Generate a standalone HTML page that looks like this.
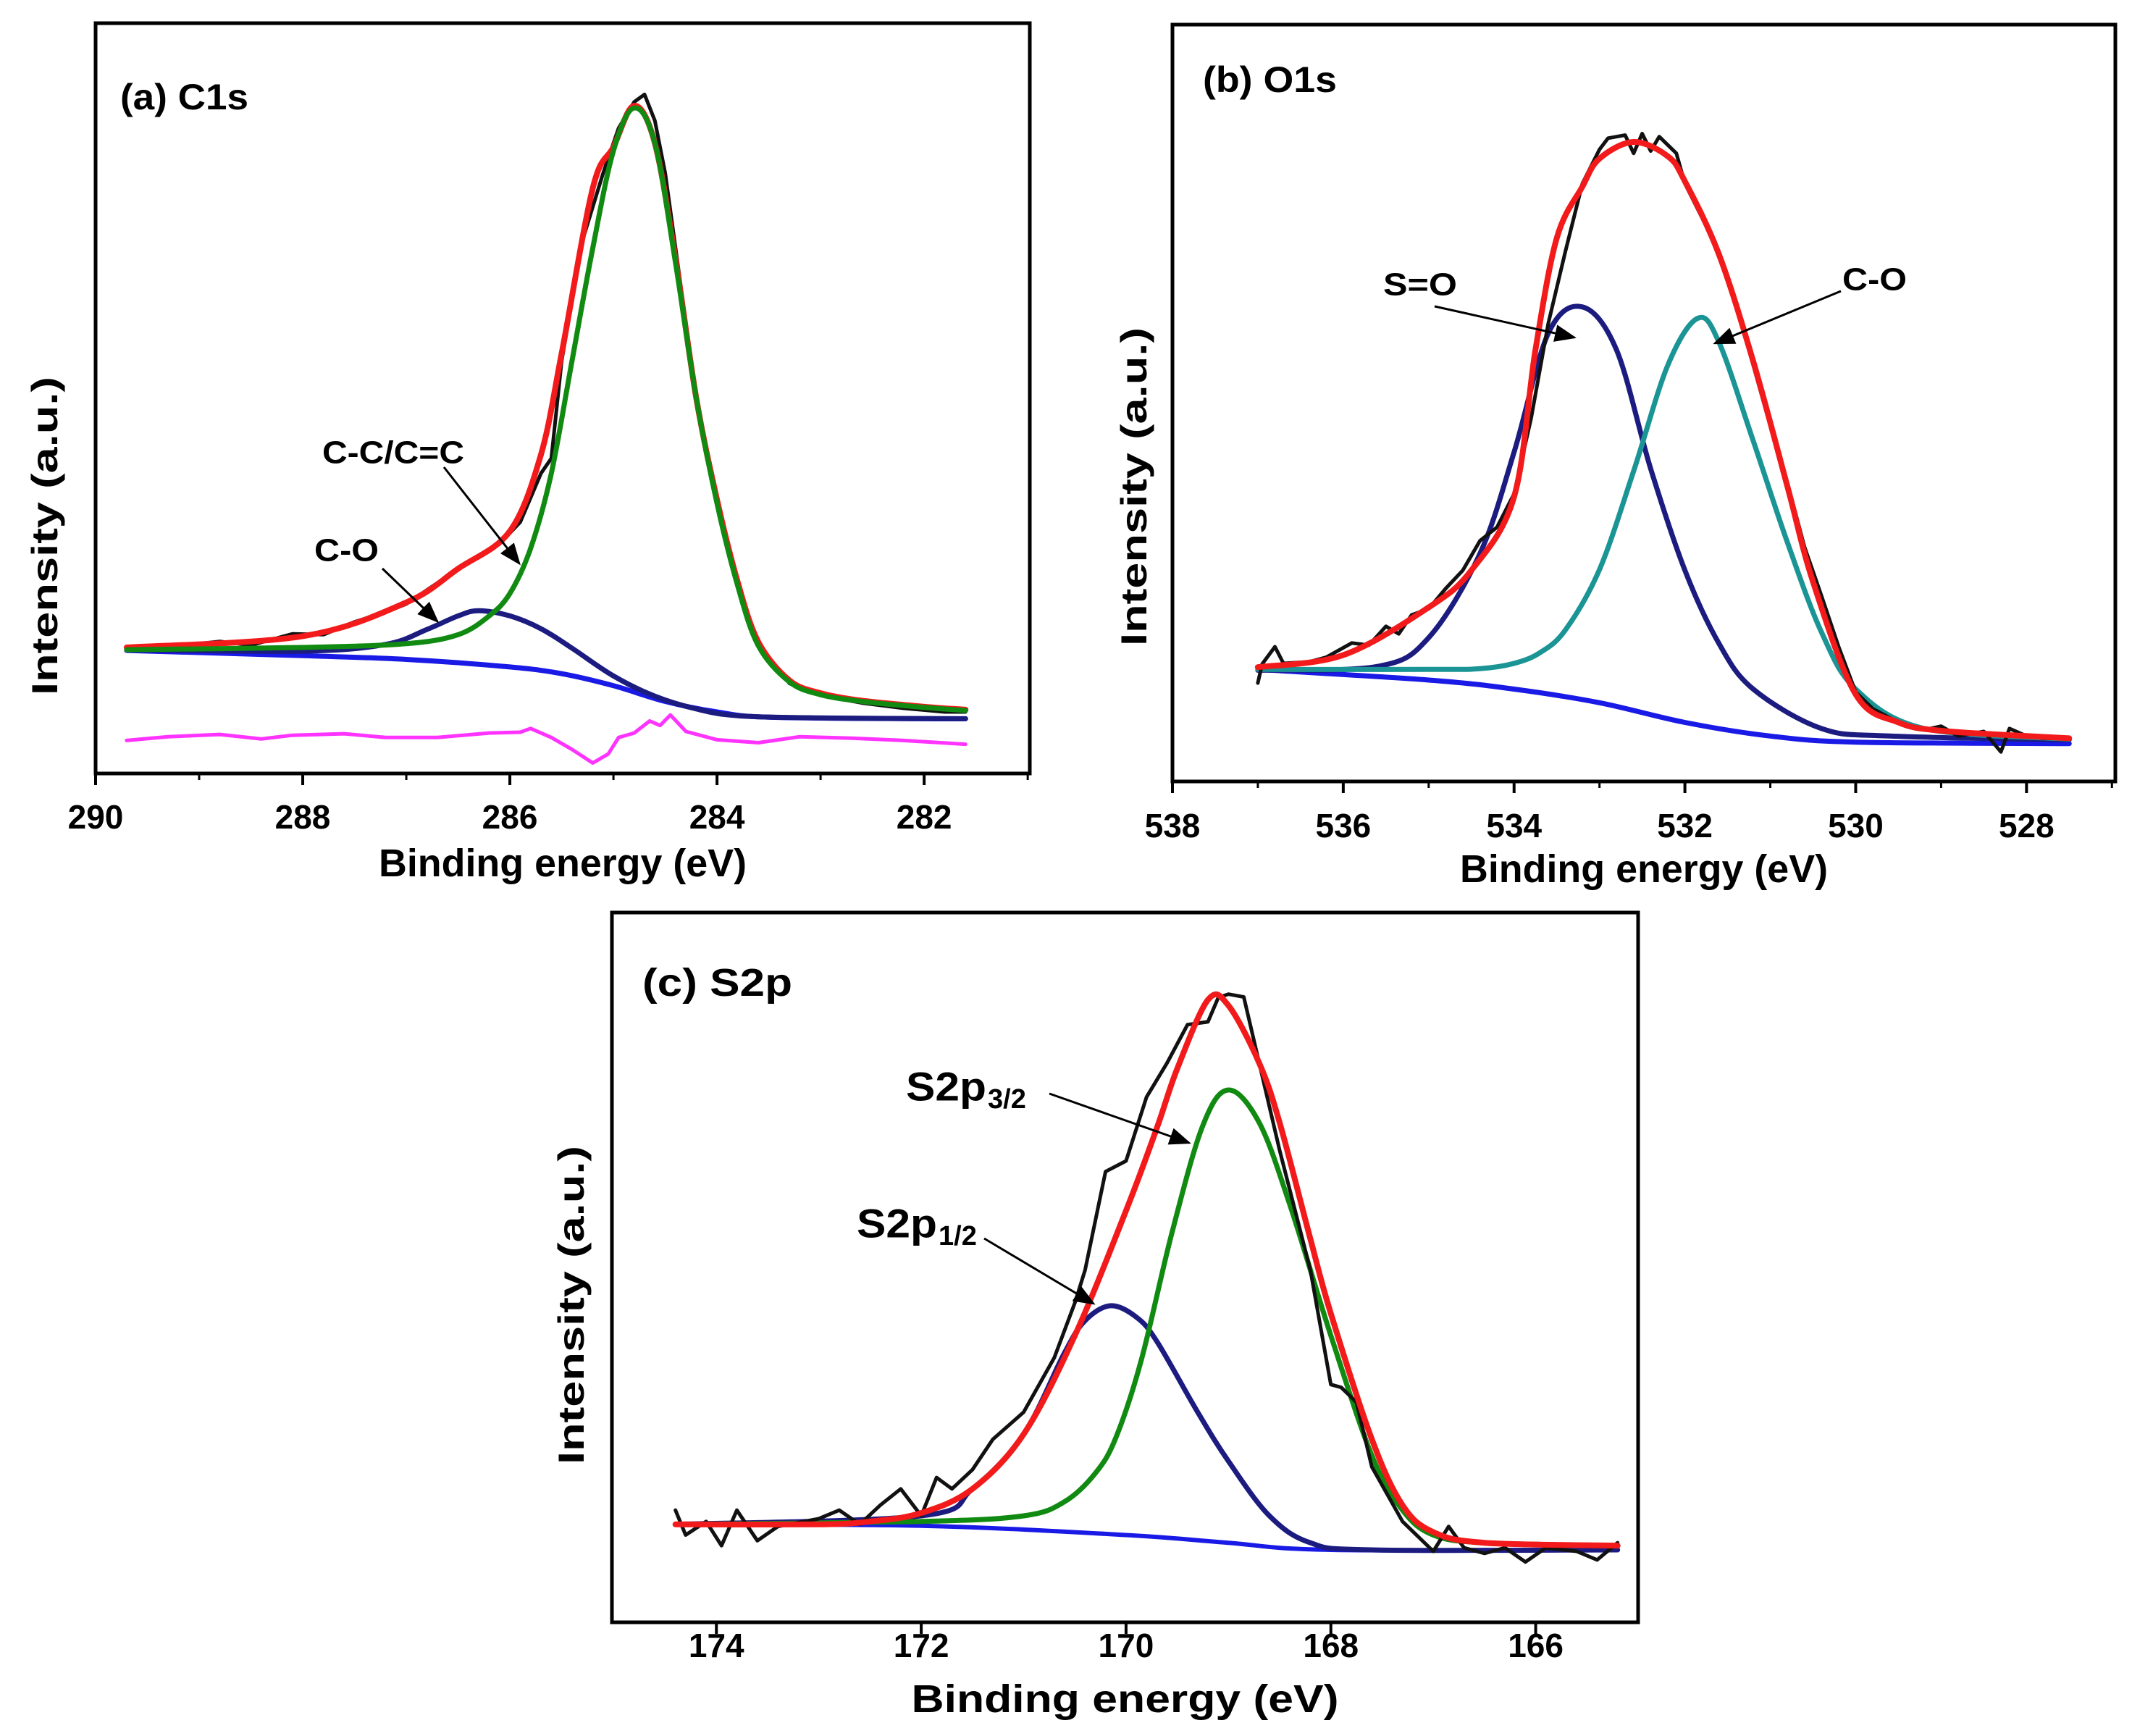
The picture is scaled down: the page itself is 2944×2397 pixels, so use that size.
<!DOCTYPE html>
<html><head><meta charset="utf-8">
<style>
html,body{margin:0;padding:0;background:#fff;}
svg{display:block;}
text{font-family:"Liberation Sans",Arial,sans-serif;font-weight:bold;fill:#000;}
</style></head>
<body>
<svg id="fig" width="2944" height="2397" viewBox="0 0 2944 2397" xmlns="http://www.w3.org/2000/svg">
<defs>
<marker id="ah" markerWidth="10" markerHeight="8" refX="9" refY="4" orient="auto" markerUnits="strokeWidth">
<path d="M0,0 L10,4 L0,8 z" fill="#000"/></marker>
</defs>
</svg>
<script>
// ---------- Panel (a) C1s data ----------
const aXTicks = [290, 288, 286, 284, 282];
const aRawE = [289.7,289.2,288.8,288.5,288.1,287.8,287.5,287.2,287.0,286.7,286.4,286.1,285.9,285.7,285.6,285.5,285.3,285.1,284.95,284.8,284.7,284.6,284.5,284.4,284.2,284.0,283.8,283.6,283.3,283.0,282.6,282.2,281.8,281.6];
const aRawI = [16.8,17,17.6,17.1,18.6,18.5,20.2,21.5,22.6,25.4,28.1,30.6,33.5,40,42,55,71,80,86,89.5,90.5,87,80,70,50,36,25,17.3,12,10.4,9.4,8.7,8.2,8.2];
const aFitE = [289.7,288,287,286.5,286,285.7,285.5,285.2,285,284.8,284.6,284.4,284.2,284,283.8,283.6,283.3,283,282.6,282,281.6];
const aFitI = [16.8,18.3,22.8,27.3,32.3,42.5,56,78,83.5,89,84,68.5,50,36.5,25.5,17.5,12.4,10.7,9.7,8.9,8.5];
const aCCE = [289.7,288,287,286.5,286.2,286,285.8,285.6,285.4,285.2,285,284.8,284.6,284.4,284.2,284,283.8,283.6,283.3,283,282.6,282,281.6];
const aCCI = [16.5,16.8,17.3,18.5,21,24,30,40,55,70,83,88.7,84,68,50,36,25,17,12.2,10.5,9.6,8.8,8.4];
const aCOE = [289.7,288,287.2,286.8,286.5,286.3,286,285.7,285.4,285,284.6,284.2,283.8,283,281.6];
const aCOI = [16.5,16.3,17.2,19.2,21,21.7,21,19.3,16.7,13,10.3,8.6,7.7,7.4,7.3];
const aBgE = [289.7,288,287,286,285.5,285,284.5,284,283.5,282,281.6];
const aBgI = [16.4,15.7,15.2,14.2,13.3,11.7,9.6,8.2,7.5,7.3,7.3];
const aResE = [289.7,289.3,288.8,288.4,288.1,287.6,287.2,286.7,286.2,285.9,285.8,285.6,285.4,285.2,285.05,284.95,284.8,284.65,284.55,284.45,284.3,284.0,283.6,283.2,282.7,282.2,281.6];
const aResI = [4.4,4.9,5.2,4.6,5.1,5.3,4.8,4.8,5.4,5.5,6.0,4.8,3.2,1.4,2.6,4.8,5.4,7.0,6.4,7.8,5.6,4.5,4.1,4.9,4.7,4.4,3.9];

// ---------- Panel (b) O1s data ----------
const bXTicks = [538, 536, 534, 532, 530, 528];
const bRawE = [537,536.95,536.8,536.7,536.4,536.2,535.9,535.7,535.5,535.35,535.2,535,534.8,534.6,534.4,534.2,534,533.8,533.6,533.4,533.2,533.0,532.9,532.7,532.6,532.5,532.4,532.3,532.1,532,531.8,531.6,531.4,531.2,531,530.8,530.6,530.4,530.2,530,529.8,529.5,529.2,529,528.8,528.5,528.3,528.2,528,527.8,527.5];
const bRawI = [13.0,15.5,17.8,15.6,15.8,16.4,18.3,18,20.5,19.5,22,22.8,25.5,27.9,31.8,33.6,38,48,60.5,70,79,83.5,85,85.4,83,85.6,83.3,85.2,83,79,74.5,70,63,55,47,39.5,31,24.5,17.8,11.8,9.6,7.8,6.8,7.3,6,6.6,3.9,7,6,5.7,5.7];
const bFitE = [537,536,535,534.5,534,533.75,533.5,533.2,533,532.6,532.2,532,531.6,531.2,530.8,530.5,530,529.5,529,528,527.5];
const bFitI = [15.1,16.7,23,27.9,37.6,57,71.8,78.6,82.3,84.5,82.6,79.3,69.6,55.5,39,26.4,11.5,7.8,6.7,6,5.7];
const bSOE = [537,535.6,535,534.4,534,533.6,533.2,532.8,532.4,532,531.6,531.2,530.4,529.6,527.5];
const bSOI = [14.7,15.2,19,30.1,43.5,59.2,62.7,57,41.3,27.9,18.2,12.2,7,6,5.5];
const bCOE = [537,535,534.4,534,533.7,533.4,533.0,532.6,532.2,531.85,531.6,531.2,530.8,530.4,530,529.2,527.5];
const bCOI = [14.8,14.8,14.9,15.6,17,20,28,41,55,61.2,58,45,31.6,19.7,12.2,7,5.6];
const bBgE = [537,535,534,533,532,531,530,527.5];
const bBgI = [14.8,13.4,12.2,10.4,7.8,6,5.2,5];

// ---------- Panel (c) S2p data ----------
const cXTicks = [174, 172, 170, 168, 166];
const cRawE = [174.4,174.3,174.1,173.95,173.8,173.6,173.4,173.0,172.8,172.6,172.4,172.2,172.0,171.85,171.7,171.5,171.3,171,170.7,170.5,170.4,170.2,170,169.8,169.6,169.4,169.2,169.1,169.0,168.85,168.7,168.5,168.2,168.0,167.9,167.75,167.6,167.3,167.0,166.85,166.7,166.5,166.3,166.1,165.9,165.6,165.4,165.2];
const cRawI = [15.8,12.3,14.2,10.8,15.8,11.5,13.5,14.6,15.8,13.8,16.5,18.8,15,20.4,18.8,21.5,25.8,29.6,37.3,45,49.6,63.5,65,74,78.8,84.2,84.6,88,88.5,88.1,78.8,66.5,49.6,33.5,33.1,31,21.9,14.2,10,13.5,10.5,9.7,10.5,8.5,10.5,10,8.8,11.2];
const cFitE = [174.4,173,172.5,172,171.5,171,170.5,170,169.7,169.5,169.2,169.0,168.7,168.5,168.2,168,167.6,167.3,167,166.5,165.2];
const cFitI = [13.8,13.8,14.2,15.4,18.8,26.5,40.4,58,69.6,78,87.7,86.9,78.8,70.4,54,43.5,25.8,16.5,12.7,11.2,10.8];
const cP32E = [174.4,172,171,170.6,170.3,170.1,169.85,169.55,169.25,169.0,168.7,168.4,168,167.6,167.3,167,166.5,165.2];
const cP32I = [13.8,14.2,15,17,21,26,37,55,70,75,70.4,58.8,40.4,23.5,15.8,12.3,11.2,10.8];
const cP12E = [174.4,172,171.5,171,170.6,170.4,170.15,169.9,169.7,169.3,169,168.6,168.2,167.6,165.2];
const cP12I = [13.8,15,18.8,26.5,38,42.5,44.6,43,39.6,29.6,22.7,15,11.2,10.2,10.2];
const cBgE = [174.4,172,170,169,168,165.2];
const cBgI = [13.8,13.6,12.3,11.2,10.2,10.2];

const NS = "http://www.w3.org/2000/svg";
const svg = document.getElementById('fig');

function mk(tag, attrs, parent) {
  const el = document.createElementNS(NS, tag);
  for (const k in attrs) el.setAttribute(k, attrs[k]);
  (parent || svg).appendChild(el);
  return el;
}

function makeAxis(p) {
  p.sx = e => p.x0 + (p.eL - e) / (p.eL - p.eR) * (p.x1 - p.x0);
  p.sy = v => p.y1 - v / 100 * (p.y1 - p.y0);
  return p;
}

function smoothPath(xs, ys) {
  let d = 'M' + xs[0].toFixed(1) + ',' + ys[0].toFixed(1);
  for (let i = 0; i < xs.length - 1; i++) {
    const x0 = xs[Math.max(i - 1, 0)], y0 = ys[Math.max(i - 1, 0)];
    const x1 = xs[i], y1 = ys[i], x2 = xs[i + 1], y2 = ys[i + 1];
    const x3 = xs[Math.min(i + 2, xs.length - 1)], y3 = ys[Math.min(i + 2, xs.length - 1)];
    const c1x = x1 + (x2 - x0) / 6, c1y = y1 + (y2 - y0) / 6;
    const c2x = x2 - (x3 - x1) / 6, c2y = y2 - (y3 - y1) / 6;
    d += ' C' + c1x.toFixed(1) + ',' + c1y.toFixed(1) + ' ' + c2x.toFixed(1) + ',' + c2y.toFixed(1) + ' ' + x2.toFixed(1) + ',' + y2.toFixed(1);
  }
  return d;
}

function series(ax, E, I, color, w, smooth, g) {
  const xs = E.map(ax.sx), ys = I.map(ax.sy);
  let d;
  if (smooth) d = smoothPath(xs, ys);
  else d = 'M' + xs.map((x, i) => x.toFixed(1) + ',' + ys[i].toFixed(1)).join(' L');
  return mk('path', {d: d, fill: 'none', stroke: color, 'stroke-width': w, 'stroke-linejoin': 'round', 'stroke-linecap': 'round'}, g);
}

function frame(ax, g, ticks, minorStep, tickY, titleY, titleLen, yTitleX, yTitleY, yTitleLen) {
  const fr = mk('rect', {x: ax.x0, y: ax.y0, width: ax.x1 - ax.x0, height: ax.y1 - ax.y0, fill: 'none', stroke: '#000', 'stroke-width': 5}, g);
  
  
  ticks.forEach(t => {
    const x = ax.sx(t);
    const tk = mk('line', {x1: x, x2: x, y1: ax.y1, y2: ax.y1 + 16, stroke: '#000', 'stroke-width': 4}, g);
    
    
    const lb = mk('text', {x: x, y: tickY, 'font-size': 46, 'text-anchor': 'middle', 'dominant-baseline': 'central'}, g);
    lb.textContent = t;
    
    
  });
  if (minorStep) {
    for (let k = 0; k < ticks.length; k++) {
      const m = ticks[k] - minorStep;
      if (m > ax.eR) {
        const x = ax.sx(m);
        const mt = mk('line', {x1: x, x2: x, y1: ax.y1, y2: ax.y1 + 9, stroke: '#000', 'stroke-width': 3}, g);
        
        
      }
    }
  }
  const xt = mk('text', {x: (ax.x0 + ax.x1) / 2, y: titleY, 'font-size': 54, 'text-anchor': 'middle', 'dominant-baseline': 'central', textLength: titleLen, lengthAdjust: 'spacingAndGlyphs'}, g);
  xt.textContent = 'Binding energy (eV)';
  
  
  const yt = mk('text', {x: 0, y: 0, 'font-size': 50, 'text-anchor': 'middle', 'dominant-baseline': 'central', textLength: yTitleLen, lengthAdjust: 'spacingAndGlyphs', transform: 'translate(' + yTitleX + ',' + yTitleY + ') rotate(-90)'}, g);
  yt.textContent = 'Intensity (a.u.)';
  
  
}

function label(g, x, y, txt, size, len, name) {
  const t = mk('text', {x: x, y: y, 'font-size': size, 'dominant-baseline': 'central', textLength: len, lengthAdjust: 'spacingAndGlyphs'}, g);
  t.textContent = txt;
  
  
  return t;
}
function arrow(g, x1, y1, x2, y2, name) {
  const a = mk('line', {x1: x1, y1: y1, x2: x2, y2: y2, stroke: '#000', 'stroke-width': 3, 'marker-end': 'url(#ah)'}, g);
  
  
}

// ===== Panel A =====
const gA = mk('g', {});


const axA = makeAxis({x0: 132, x1: 1422, y0: 32, y1: 1068, eL: 290, eR: 280.98});
frame(axA, gA, aXTicks, 1, 1128, 1192, 508, 62, 740, 440);
let s;
s = series(axA, aBgE, aBgI, '#1a1ae6', 7, true, gA);


s = series(axA, aResE, aResI, '#ff33ff', 5, false, gA);


s = series(axA, aCOE, aCOI, '#1c1c80', 7, true, gA);


s = series(axA, aRawE, aRawI, '#111', 5, false, gA);


s = series(axA, aFitE, aFitI, '#f21a1a', 8, true, gA);


s = series(axA, aCCE, aCCI, '#118a11', 7, true, gA);


label(gA, 166, 134, '(a) C1s', 50, 177, 'panel-label-a');
label(gA, 445, 625, 'C-C/C=C', 44, 196, 'c-c-annotation');
arrow(gA, 613, 645, 717, 778, 'c-c-arrow');
label(gA, 434, 760, 'C-O', 44, 89, 'c-o-annotation-a');
arrow(gA, 528, 785, 604, 858, 'c-o-arrow-a');

// ===== Panel B =====
const gB = mk('g', {});


const axB = makeAxis({x0: 1619, x1: 2921, y0: 34, y1: 1079, eL: 538, eR: 526.96});
frame(axB, gB, bXTicks, 1, 1140, 1200, 508, 1566, 672, 440);
s = series(axB, bBgE, bBgI, '#1a1ae6', 7, true, gB);


s = series(axB, bSOE, bSOI, '#1c1c80', 7, true, gB);


s = series(axB, bCOE, bCOI, '#1a9494', 7, true, gB);


s = series(axB, bRawE, bRawI, '#111', 5, false, gB);


s = series(axB, bFitE, bFitI, '#f21a1a', 8, true, gB);


label(gB, 1661, 110, '(b) O1s', 50, 185, 'panel-label-b');
label(gB, 1910, 393, 'S=O', 44, 102, 's-o-annotation');
arrow(gB, 1981, 423, 2174, 466, 's-o-arrow');
label(gB, 2544, 386, 'C-O', 44, 89, 'c-o-annotation-b');
arrow(gB, 2542, 402, 2368, 474, 'c-o-arrow-b');

// ===== Panel C =====
const gC = mk('g', {});


const axC = makeAxis({x0: 845, x1: 2262, y0: 1260, y1: 2240, eL: 175.02, eR: 165.0});
frame(axC, gC, cXTicks, 0, 2272, 2346, 590, 789, 1802, 440);
s = series(axC, cBgE, cBgI, '#1a1ae6', 6, true, gC);


s = series(axC, cP12E, cP12I, '#1c1c80', 7, true, gC);


s = series(axC, cP32E, cP32I, '#118a11', 7, true, gC);


s = series(axC, cRawE, cRawI, '#111', 5, false, gC);


s = series(axC, cFitE, cFitI, '#f21a1a', 8, true, gC);


label(gC, 887, 1357, '(c) S2p', 54, 207, 'panel-label-c');
label(gC, 1251, 1500, 'S2p', 56, 111, 's2p-3-2-annotation');
const sub1 = mk('text', {x: 1364, y: 1518, 'font-size': 38, 'dominant-baseline': 'central'}, gC);
sub1.textContent = '3/2';


arrow(gC, 1449, 1510, 1642, 1578, 's2p-3-2-arrow');
label(gC, 1183, 1689, 'S2p', 56, 111, 's2p-1-2-annotation');
const sub2 = mk('text', {x: 1296, y: 1707, 'font-size': 38, 'dominant-baseline': 'central'}, gC);
sub2.textContent = '1/2';


arrow(gC, 1359, 1710, 1510, 1800, 's2p-1-2-arrow');
</script>
</body></html>
